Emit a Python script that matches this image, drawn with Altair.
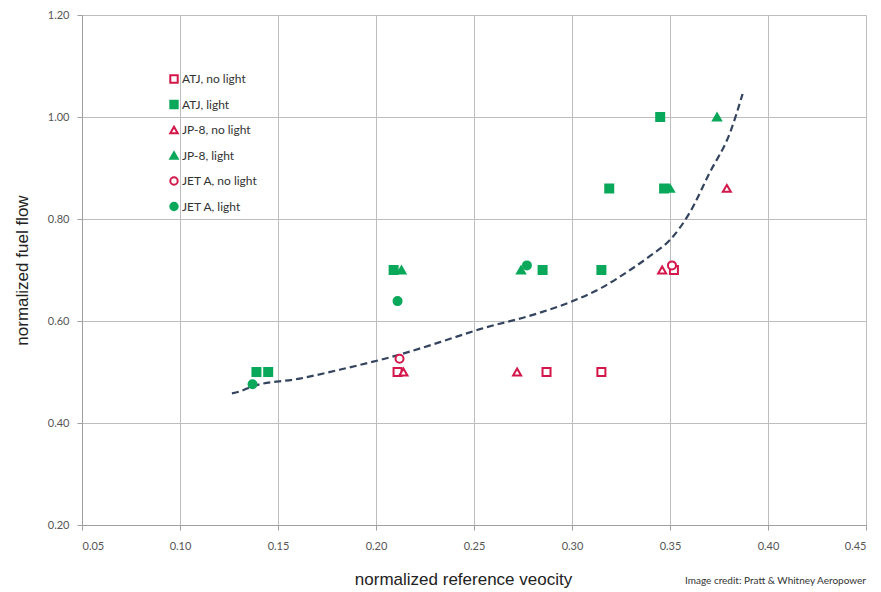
import altair as alt
import pandas as pd

series_order = ["ATJ, no light", "ATJ, light", "JP-8, no light", "JP-8, light",
                "JET A, no light", "JET A, light"]

atj_nolight_x = [0.211, 0.287, 0.315, 0.352]
atj_nolight_y = [0.50, 0.50, 0.50, 0.70]
atj_light_x = [0.139, 0.145, 0.209, 0.285, 0.315, 0.319, 0.345, 0.347]
atj_light_y = [0.50, 0.50, 0.70, 0.70, 0.70, 0.86, 1.00, 0.86]
jp8_nolight_x = [0.214, 0.272, 0.346, 0.379]
jp8_nolight_y = [0.50, 0.50, 0.70, 0.86]
jp8_light_x = [0.213, 0.274, 0.350, 0.374]
jp8_light_y = [0.70, 0.70, 0.86, 1.00]
jeta_nolight_x = [0.212, 0.351]
jeta_nolight_y = [0.526, 0.709]
jeta_light_x = [0.137, 0.211, 0.277]
jeta_light_y = [0.476, 0.639, 0.709]

curve_x = [0.1265, 0.1306, 0.137, 0.161, 0.182, 0.212, 0.233, 0.253, 0.280, 0.299,
           0.315, 0.330, 0.340, 0.350, 0.360, 0.370, 0.381, 0.387]
curve_y = [0.458, 0.462, 0.472, 0.487, 0.505, 0.534, 0.559, 0.584, 0.612, 0.637,
           0.665, 0.701, 0.728, 0.759, 0.812, 0.889, 0.973, 1.045]

groups = [
    (series_order[0], atj_nolight_x, atj_nolight_y),
    (series_order[1], atj_light_x, atj_light_y),
    (series_order[2], jp8_nolight_x, jp8_nolight_y),
    (series_order[3], jp8_light_x, jp8_light_y),
    (series_order[4], jeta_nolight_x, jeta_nolight_y),
    (series_order[5], jeta_light_x, jeta_light_y),
]
rows = []
for name, xs, ys in groups:
    for xv, yv in zip(xs, ys):
        rows.append({"series": name, "x": xv, "y": yv})
pts = pd.DataFrame(rows)
curve = pd.DataFrame({"x": curve_x, "y": curve_y})

RED = "#d4174a"
GREEN = "#0aa85a"

xscale = alt.Scale(domain=[0.05, 0.45], nice=False, zero=False)
yscale = alt.Scale(domain=[0.20, 1.20], nice=False, zero=False)

xaxis = alt.Axis(values=[0.05, 0.10, 0.15, 0.20, 0.25, 0.30, 0.35, 0.40, 0.45],
                 format=".2f", title="normalized reference veocity",
                 grid=True, gridColor="#bdbdbd", domainColor="#a0a0a0",
                 tickColor="#a0a0a0", tickSize=5, labelPadding=10,
                 labelFont="Lato", labelFontSize=11, labelColor="#555555",
                 titleFont="Liberation Sans", titleFontSize=17, titleFontWeight="normal",
                 titleColor="#222222", titlePadding=20, titleX=381)
yaxis = alt.Axis(values=[0.20, 0.40, 0.60, 0.80, 1.00, 1.20], format=".2f",
                 title="normalized fuel flow",
                 grid=True, gridColor="#bdbdbd", domainColor="#a0a0a0",
                 tickColor="#a0a0a0", tickSize=5, labelPadding=8,
                 labelFont="Lato", labelFontSize=11, labelColor="#555555",
                 titleFont="Liberation Sans", titleFontSize=17, titleFontWeight="normal",
                 titleColor="#222222", titlePadding=16)

line = alt.Chart(curve).mark_line(color="#34445f", strokeWidth=2.2,
                                  strokeDash=[7, 4], interpolate="monotone").encode(
    x=alt.X("x:Q", scale=xscale, axis=xaxis),
    y=alt.Y("y:Q", scale=yscale, axis=yaxis),
    order="x:Q",
)

legend = alt.Legend(orient="none", legendX=86, legendY=58, title=None,
                    labelFont="Lato", labelFontSize=12, labelColor="#333333",
                    symbolSize=55, rowPadding=9.5, labelOffset=2,
                    symbolStrokeWidth=2)

points = alt.Chart(pts).mark_point(opacity=1, strokeWidth=2, size=64).encode(
    x=alt.X("x:Q", scale=xscale),
    y=alt.Y("y:Q", scale=yscale),
    shape=alt.Shape("series:N", sort=series_order,
                    scale=alt.Scale(domain=series_order,
                                    range=["square", "square", "triangle-up",
                                           "triangle-up", "circle", "circle"]),
                    legend=legend),
    stroke=alt.Stroke("series:N", sort=series_order,
                      scale=alt.Scale(domain=series_order,
                                      range=[RED, GREEN, RED, GREEN, RED, GREEN]),
                      legend=legend),
    fill=alt.Fill("series:N", sort=series_order,
                  scale=alt.Scale(domain=series_order,
                                  range=["white", GREEN, "white", GREEN, "white", GREEN]),
                  legend=legend),
)

credit = alt.Chart(pd.DataFrame({"t": ["Image credit: Pratt & Whitney Aeropower"]})).mark_text(
    align="right", baseline="middle", font="Lato", fontSize=10, color="#333333"
).encode(x=alt.value(784), y=alt.value(566), text="t:N")

chart = alt.layer(line, points, credit).properties(
    width=784, height=510,
    autosize=alt.AutoSizeParams(type="none"),
    padding={"left": 74, "top": 7, "right": 7, "bottom": 67},
).configure_view(stroke=None).configure(background="white")

chart.save("out.html", embed_options={"renderer": "svg", "actions": False})
